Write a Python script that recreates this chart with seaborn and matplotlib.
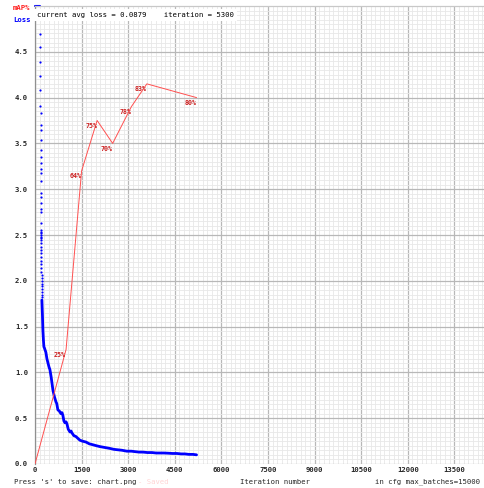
import numpy as np
import matplotlib
matplotlib.use("Agg")
import matplotlib.pyplot as plt
import seaborn as sns

# loss clamped above the chart top (first iterations)
head_iter = [0, 50, 100, 140, 165]
head_loss = [15.0, 10.0, 7.5, 6.0, 5.2]

# fast drop, one dot per iteration
early_loss = [4.69, 4.55, 4.39, 4.24, 4.08, 3.91, 3.83, 3.70, 3.65, 3.54,
              3.43, 3.35, 3.29, 3.22, 3.18, 3.09, 2.96, 2.91, 2.85, 2.78,
              2.75, 2.63, 2.55, 2.53, 2.52, 2.50, 2.48, 2.47, 2.45, 2.41,
              2.37, 2.34, 2.30, 2.26, 2.22, 2.18, 2.14, 2.10, 2.06, 2.03,
              2.00, 1.97, 1.94, 1.91, 1.88, 1.85, 1.82]
early_iter = list(range(172, 172 + len(early_loss)))

# avg loss afterwards
loss_iter = [222, 240, 254, 270, 286, 300, 319, 350, 383, 420,
             450, 480, 520, 576, 620, 673, 700, 737, 780, 834,
             870, 898, 930, 963, 1000, 1027, 1070, 1124, 1160, 1188,
             1250, 1317, 1380, 1445, 1520, 1638, 1750, 1864, 1970, 2089,
             2250, 2411, 2540, 2668, 2800, 2958, 3100, 3216, 3350, 3474,
             3620, 3764, 3900, 4021, 4150, 4279, 4420, 4569, 4700, 4826,
             4950, 5084, 5200]
loss_val = [1.79, 1.62, 1.46, 1.36, 1.28, 1.27, 1.25, 1.22, 1.15, 1.10,
            1.06, 1.03, 0.95, 0.81, 0.74, 0.68, 0.66, 0.59, 0.58, 0.55,
            0.56, 0.53, 0.47, 0.45, 0.46, 0.44, 0.38, 0.35, 0.36, 0.34,
            0.31, 0.30, 0.28, 0.26, 0.25, 0.24, 0.22, 0.21, 0.20, 0.19,
            0.18, 0.17, 0.16, 0.155, 0.15, 0.14, 0.14, 0.135, 0.13, 0.13,
            0.125, 0.125, 0.12, 0.12, 0.12, 0.118, 0.115, 0.115, 0.11, 0.11,
            0.105, 0.105, 0.10]

# mAP checkpoints (%)
map_iter = [0, 1000, 1500, 2000, 2500, 3100, 3600, 5200]
map_val = [0, 25, 64, 75, 70, 78, 83, 80]

x_ticks = [0, 1500, 3000, 4500, 6000, 7500, 9000, 10500, 12000, 13500]
y_ticks = [0.0, 0.5, 1.0, 1.5, 2.0, 2.5, 3.0, 3.5, 4.0, 4.5]

sns.set_style("white")
plt.rcParams['font.family'] = ['DejaVu Sans Mono']
fs = 5.2

fig = plt.figure(figsize=(4.85, 4.88), dpi=100)
W, H = 485, 488
ax = fig.add_axes([35 / W, 24 / H, 450 / W, 458 / H])
ax.set_xlim(0, 14485)
ax.set_ylim(0, 5)

ax.set_xticks(x_ticks)
ax.set_xticklabels([str(t) for t in x_ticks], fontsize=fs, fontweight='bold')
ax.set_yticks(y_ticks)
ax.set_yticklabels([f"{t:.1f}" for t in y_ticks], fontsize=fs, fontweight='bold')
ax.set_xticks(np.arange(0, 14485, 150), minor=True)
ax.set_yticks(np.arange(0, 5.0, 0.05), minor=True)
ax.tick_params(which='both', length=0)
ax.tick_params(axis='y', pad=5)
ax.tick_params(axis='x', pad=2)
ax.grid(which='minor', color='#e8e8e8', lw=0.6)
ax.grid(which='major', color='#b8b8b8', lw=0.9)
ax.set_axisbelow(True)
for s in ['right', 'bottom']:
    ax.spines[s].set_visible(False)
ax.spines['left'].set_color('#909090')
ax.spines['top'].set_color('#c8c8c8')
ax.spines['left'].set_linewidth(0.9)
ax.spines['top'].set_linewidth(0.9)

# loss
sns.lineplot(x=head_iter, y=np.clip(head_loss, None, 5.0), ax=ax,
             color='#0000ff', lw=1.5, clip_on=False)
sns.scatterplot(x=early_iter, y=early_loss, ax=ax, color='#0000ff',
                s=2.5, linewidth=0)
sns.lineplot(x=loss_iter, y=loss_val, ax=ax, color='#0000ff', lw=2.0)
ax.set_xlabel("")
ax.set_ylabel("")

# mAP on a 0..100 scale
ax2 = ax.twinx()
ax2.set_ylim(0, 100)
ax2.set_xlim(ax.get_xlim())
ax2.axis('off')
sns.lineplot(x=map_iter, y=map_val, ax=ax2, color='#ff5050', lw=0.7)
for it, v in zip(map_iter[1:], map_val[1:]):
    ax2.annotate(f"{v}%", (it, v), xytext=(0, -4), textcoords='offset points',
                 ha='right', va='center', fontsize=4.8, fontweight='bold',
                 color='#cc2020')

ax.text(2 / 450, 1 - 9 / 458, "current avg loss = 0.0879    iteration = 5300",
        transform=ax.transAxes, fontsize=fs, color='black', va='center',
        ha='left', bbox=dict(facecolor='white', edgecolor='none', pad=2.2),
        zorder=10)

fig.text(13 / W, 1 - 8 / H, "mAP%", color='#ff2020', fontsize=fs,
         fontweight='bold', va='center')
fig.text(13 / W, 1 - 20 / H, "Loss", color='#0000ff', fontsize=fs,
         fontweight='bold', va='center')
fig.text(14 / W, 1 - 482 / H, "Press 's' to save: chart.png", fontsize=fs,
         va='center')
fig.text(138 / W, 1 - 482 / H, "- Saved", fontsize=fs, color='#ffd4d4',
         va='center')
fig.text(240 / W, 1 - 482 / H, "Iteration number", fontsize=fs, va='center')
fig.text(375 / W, 1 - 482 / H, "in cfg max_batches=15000", fontsize=fs,
         va='center')

fig.savefig("out.png", dpi=100)
